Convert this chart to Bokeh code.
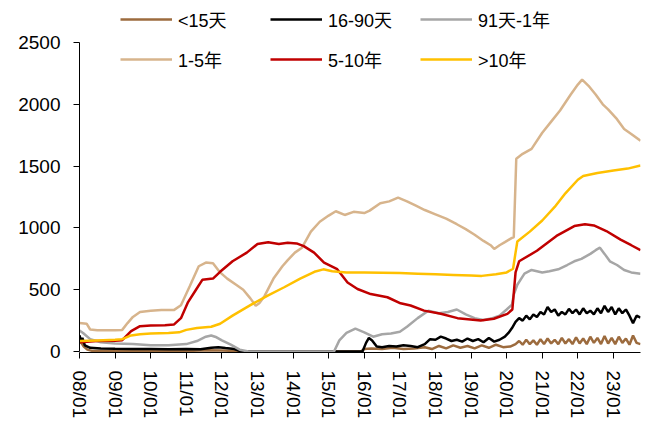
from bokeh.plotting import figure
from bokeh.models import Range1d, FixedTicker, Legend, LegendItem
from bokeh.embed import file_html
from bokeh.resources import INLINE

# ---------------- data ----------------
series_names = ["<15天", "16-90天", "91天-1年", "1-5年", "5-10年", ">10年"]
series_colors = ["#9C6B3E", "#000000", "#A6A6A6", "#D7B48C", "#C00000", "#FFC000"]

year_ticks = list(range(2008, 2024))
x_tick_labels = ["08/01", "09/01", "10/01", "11/01", "12/01", "13/01", "14/01", "15/01",
                 "16/01", "17/01", "18/01", "19/01", "20/01", "21/01", "22/01", "23/01"]
y_ticks = [0, 500, 1000, 1500, 2000, 2500]

lt15_x = [2008.00, 2008.05, 2008.12, 2008.22, 2008.35, 2009.0, 2010.0, 2011.0, 2011.6, 2012.0,
          2012.4, 2012.6, 2015.9, 2016.0, 2016.2, 2016.5, 2016.8, 2017.1, 2017.4, 2017.7,
          2017.9, 2018.1, 2018.3, 2018.5, 2018.7, 2018.9, 2019.1, 2019.3, 2019.5, 2019.7,
          2019.9, 2020.1, 2020.25, 2020.35, 2020.45, 2020.55, 2020.65, 2020.75, 2020.85, 2020.95,
          2021.05, 2021.15, 2021.25, 2021.35, 2021.45, 2021.55, 2021.65, 2021.75, 2021.85, 2021.95,
          2022.05, 2022.15, 2022.25, 2022.35, 2022.45, 2022.55, 2022.65, 2022.75, 2022.85, 2022.95,
          2023.05, 2023.15, 2023.25, 2023.35, 2023.45, 2023.55, 2023.65, 2023.76]
lt15_y = [80, 70, 40, 15, 5, 5, 5, 5, 10, 8,
          5, 0, 0, 20, 25, 20, 30, 20, 25, 35,
          20, 45, 25, 50, 30, 45, 25, 50, 30, 55,
          35, 40, 60, 85, 55, 95, 60, 90, 55, 100,
          60, 105, 65, 95, 60, 110, 65, 100, 60, 115,
          65, 105, 60, 120, 70, 110, 60, 125, 65, 110,
          60, 120, 70, 105, 55, 130, 70, 60]

d16_90_x = [2008.00, 2008.04, 2008.08, 2008.15, 2008.3, 2008.6, 2009.0, 2009.5, 2010.0, 2010.5,
            2011.0, 2011.4, 2011.7, 2011.9, 2012.1, 2012.35, 2012.55, 2015.95, 2016.05, 2016.13,
            2016.22, 2016.35, 2016.5, 2016.7, 2016.9, 2017.1, 2017.3, 2017.5, 2017.7, 2017.85,
            2018.0, 2018.15, 2018.3, 2018.45, 2018.6, 2018.75, 2018.9, 2019.05, 2019.2, 2019.35,
            2019.5, 2019.65, 2019.8, 2019.95, 2020.05, 2020.15, 2020.25, 2020.35, 2020.45, 2020.55,
            2020.65, 2020.75, 2020.85, 2020.95, 2021.05, 2021.15, 2021.25, 2021.35, 2021.45, 2021.55,
            2021.65, 2021.75, 2021.85, 2021.95, 2022.05, 2022.15, 2022.25, 2022.35, 2022.45, 2022.55,
            2022.65, 2022.75, 2022.85, 2022.95, 2023.05, 2023.15, 2023.25, 2023.35, 2023.45, 2023.55,
            2023.65, 2023.76]
d16_90_y = [130, 90, 110, 50, 30, 25, 22, 20, 20, 18,
            20, 18, 30, 35, 28, 20, 0, 0, 70, 110,
            90, 40, 35, 45, 40, 50, 45, 35, 60, 100,
            95, 120, 105, 85, 95, 80, 105, 85, 100, 75,
            110, 80, 95, 120, 150, 190, 240, 270, 250, 290,
            260, 300, 280, 320, 300, 360, 320, 340, 290, 320,
            300, 345, 310, 340, 300, 350, 310, 330, 300, 350,
            310, 370, 320, 360, 300, 350, 310, 340, 290, 230,
            290, 275]

d91_1y_x = [2008.00, 2008.1, 2008.3, 2008.6, 2009.0, 2009.5, 2010.0, 2010.5, 2011.0, 2011.3,
            2011.55, 2011.7, 2011.85, 2012.0, 2012.25, 2012.5, 2012.75, 2015.15, 2015.3, 2015.5,
            2015.75, 2016.0, 2016.25, 2016.5, 2016.75, 2017.0, 2017.2, 2017.5, 2017.8, 2018.1,
            2018.35, 2018.6, 2018.85, 2019.1, 2019.35, 2019.6, 2019.8, 2020.0, 2020.15, 2020.2,
            2020.3, 2020.5, 2020.7, 2021.0, 2021.2, 2021.45, 2021.7, 2021.9, 2022.1, 2022.35,
            2022.5, 2022.62, 2022.75, 2022.9, 2023.1, 2023.3, 2023.5, 2023.76]
d91_1y_y = [170, 150, 100, 75, 65, 60, 50, 50, 60, 85,
            120, 130, 115, 90, 55, 15, 0, 0, 90, 150,
            185, 155, 120, 140, 145, 160, 200, 270, 330, 310,
            320, 340, 300, 270, 255, 270, 290, 340, 380, 460,
            540, 630, 660, 640, 650, 665, 700, 730, 750, 790,
            820, 840, 790, 730, 700, 660, 640, 630]

y1_5_x = [2008.00, 2008.20, 2008.30, 2008.50, 2009.00, 2009.20, 2009.35, 2009.50, 2009.70, 2010.00,
          2010.30, 2010.65, 2010.85, 2011.10, 2011.35, 2011.55, 2011.75, 2011.95, 2012.15, 2012.40,
          2012.60, 2012.80, 2012.95, 2013.05, 2013.20, 2013.45, 2013.70, 2013.85, 2014.05, 2014.25,
          2014.50, 2014.75, 2015.00, 2015.20, 2015.45, 2015.70, 2016.00, 2016.15, 2016.45, 2016.70,
          2016.95, 2017.20, 2017.45, 2017.70, 2018.00, 2018.30, 2018.60, 2018.85, 2019.10, 2019.35,
          2019.55, 2019.65, 2019.80, 2019.95, 2020.15, 2020.20, 2020.27, 2020.45, 2020.70, 2021.00,
          2021.25, 2021.50, 2021.80, 2022.00, 2022.12, 2022.30, 2022.50, 2022.70, 2022.85, 2023.10,
          2023.30, 2023.50, 2023.76]
y1_5_y = [230, 225, 178, 172, 172, 175, 230, 280, 320, 330,
          335, 335, 375, 530, 690, 720, 715, 640, 590, 540,
          500, 430, 370, 390, 450, 590, 690, 740, 800, 840,
          970, 1050, 1100, 1135, 1105, 1130, 1120, 1140, 1200, 1215,
          1245, 1215, 1180, 1145, 1110, 1075, 1030, 990, 945, 895,
          860, 830, 860, 885, 920, 925, 1560, 1600, 1640, 1770,
          1860, 1950, 2080, 2160, 2200, 2150, 2080, 2000, 1960, 1880,
          1800, 1760, 1705]

y5_10_x = [2008.00, 2008.50, 2009.00, 2009.20, 2009.45, 2009.70, 2010.00, 2010.40, 2010.65, 2010.85,
           2011.05, 2011.25, 2011.45, 2011.75, 2011.95, 2012.30, 2012.70, 2013.00, 2013.30, 2013.60,
           2013.85, 2014.10, 2014.30, 2014.59, 2014.87, 2015.24, 2015.53, 2015.81, 2016.18, 2016.65,
           2017.02, 2017.30, 2017.68, 2018.15, 2018.62, 2019.27, 2019.64, 2020.02, 2020.16, 2020.25,
           2020.35, 2020.85, 2021.40, 2021.90, 2022.20, 2022.45, 2022.80, 2023.20, 2023.50, 2023.76]
y5_10_y = [75, 85, 88, 92, 165, 205, 210, 212, 218, 270,
           400, 490, 580, 590, 645, 730, 800, 870, 885, 870,
           880, 875, 853, 800, 720, 666, 559, 506, 465, 439,
           390, 372, 331, 305, 270, 251, 265, 305, 340, 640,
           730, 815, 935, 1015, 1030, 1020, 975, 905, 860, 820]

gt10_x = [2008.00, 2008.50, 2009.00, 2009.20, 2009.45, 2009.70, 2010.00, 2010.50, 2010.80, 2011.00,
          2011.30, 2011.70, 2011.95, 2012.30, 2012.80, 2013.30, 2013.75, 2014.20, 2014.60, 2014.85,
          2015.10, 2015.50, 2016.00, 2016.50, 2017.00, 2017.50, 2018.00, 2018.50, 2019.00, 2019.30,
          2019.70, 2020.00, 2020.18, 2020.25, 2020.30, 2020.65, 2021.00, 2021.35, 2021.65, 2022.00,
          2022.15, 2022.55, 2023.00, 2023.40, 2023.76]
gt10_y = [85, 90, 95, 100, 130, 140, 145, 150, 155, 175,
          190, 200, 225, 290, 375, 455, 520, 590, 645, 665,
          650, 640, 640, 638, 635, 630, 625, 620, 615, 612,
          625, 640, 670, 800, 890, 970, 1060, 1170, 1280, 1390,
          1420, 1445, 1465, 1480, 1505]

series_x = [lt15_x, d16_90_x, d91_1y_x, y1_5_x, y5_10_x, gt10_x]
series_y = [lt15_y, d16_90_y, d91_1y_y, y1_5_y, y5_10_y, gt10_y]

# ---------------- figure ----------------
FONT = "Liberation Sans, Noto Sans CJK SC"

p = figure(width=648, height=421, output_backend="svg", toolbar_location=None,
           x_range=Range1d(2008.0, 2023.76), y_range=Range1d(-8, 2808),
           min_border_left=79, min_border_right=8, min_border_top=4, min_border_bottom=67)
p.outline_line_color = None
p.grid.visible = False
p.background_fill_color = "white"
p.border_fill_color = "white"

renderers = []
for xs, ys, c in zip(series_x, series_y, series_colors):
    r = p.line(xs, ys, line_color=c, line_width=2.5)
    renderers.append(r)

for ax in (p.xaxis[0], p.yaxis[0]):
    ax.axis_line_color = "black"
    ax.axis_line_width = 1
    ax.major_tick_line_color = "black"
    ax.major_tick_out = 6
    ax.major_tick_in = 0
    ax.minor_tick_line_color = None
    ax.major_label_text_font = FONT
    ax.major_label_text_font_size = "19px"
    ax.major_label_text_color = "black"

p.xaxis.ticker = FixedTicker(ticks=year_ticks)
p.xaxis.major_label_overrides = {t: lab for t, lab in zip(year_ticks, x_tick_labels)}
p.xaxis.major_label_orientation = "vertical"
p.xaxis.major_label_standoff = 12

p.yaxis.ticker = FixedTicker(ticks=y_ticks)
p.yaxis.bounds = (0, 2500)
p.yaxis.major_label_standoff = 13

# legend: 2 rows x 3 columns
col_x = [41, 191, 341]
row_y = [320, 280]
for i, (name, r) in enumerate(zip(series_names, renderers)):
    row, col = divmod(i, 3)
    leg = Legend(items=[LegendItem(label=name, renderers=[r])],
                 location=(col_x[col], row_y[row]), orientation="horizontal",
                 glyph_width=52, glyph_height=20, label_height=20, label_standoff=6,
                 padding=0, margin=0, spacing=0,
                 border_line_color=None, background_fill_alpha=0,
                 label_text_font=FONT, label_text_font_size="18px",
                 label_text_color="black")
    p.add_layout(leg)

open("out.html", "w").write(file_html(p, INLINE))
